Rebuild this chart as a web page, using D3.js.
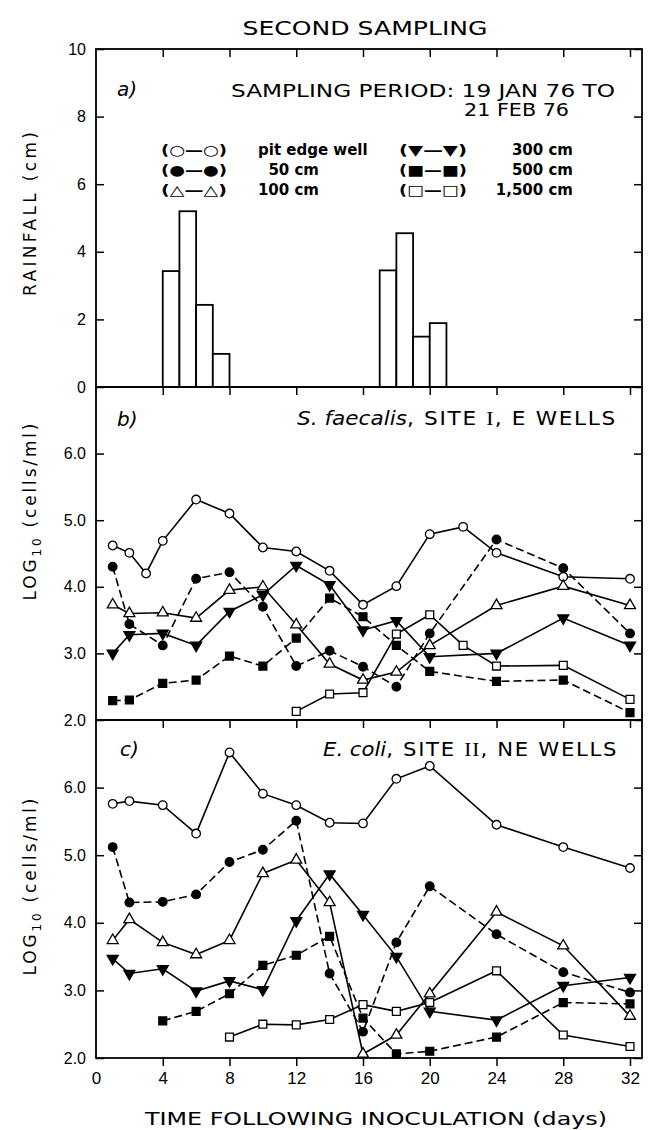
<!DOCTYPE html>
<html>
<head>
<meta charset="utf-8">
<script src="https://cdn.jsdelivr.net/npm/d3@7/dist/d3.min.js"></script>
<style>
  html, body { margin: 0; padding: 0; background: #fff; }
  svg { display: block; font-family: 'DejaVu Sans', 'Liberation Sans', sans-serif; }
</style>
</head>
<body>
<div id="chart"></div>
<script>
'use strict';

// x axis (days after inoculation)
const dayTicks = [0, 4, 8, 12, 16, 20, 24, 28, 32];
const sampleDays = [1, 2, 4, 6, 8, 10, 12, 14, 16, 18, 20, 24, 28, 32];

// a) rainfall, one bar per day
const rainDays = [4, 5, 6, 7, 17, 18, 19, 20];
const rainCm = [3.43, 5.2, 2.43, 0.98, 3.45, 4.55, 1.49, 1.89];
const rainTicks = [10, 8, 6, 4, 2, 0];

// b) S. faecalis, site I
const bPitEdgeDays = [1, 2, 3, 4, 6, 8, 10, 12, 14, 16, 18, 20, 22, 24, 28, 32];
const bPitEdge = [4.62, 4.51, 4.20, 4.69, 5.31, 5.10, 4.59, 4.53, 4.24, 3.73, 4.01, 4.79, 4.90, 4.51, 4.15, 4.12];
const b50cm = [4.30, 3.44, 3.12, 4.12, 4.22, 3.70, 2.81, 3.04, 2.80, 2.50, 3.30, 4.71, 4.28, 3.30];
const b100cm = [3.73, 3.60, 3.61, 3.53, 3.95, 4.00, 3.43, 2.84, 2.60, 2.72, 3.12, 3.72, 4.01, 3.72];
const b300cm = [3.00, 3.28, 3.30, 3.12, 3.63, 3.88, 4.32, 4.03, 3.35, 3.49, 2.95, 3.00, 3.53, 3.12];
const b500cm = [2.29, 2.30, 2.55, 2.60, 2.96, 2.81, 3.23, 3.83, 3.55, 3.12, 2.73, 2.58, 2.60, 2.11];
const b1500Days = [12, 14, 16, 18, 20, 22, 24, 28, 32];
const b1500cm = [2.13, 2.39, 2.41, 3.29, 3.58, 3.12, 2.81, 2.82, 2.31];

// c) E. coli, site II
const cPitEdge = [5.76, 5.80, 5.74, 5.32, 6.52, 5.91, 5.74, 5.48, 5.47, 6.13, 6.32, 5.45, 5.12, 4.81];
const c50cm = [5.12, 4.30, 4.31, 4.42, 4.90, 5.08, 5.51, 3.25, 2.39, 3.71, 4.54, 3.83, 3.27, 2.97];
const c100cm = [3.74, 4.05, 3.71, 3.53, 3.74, 4.73, 4.93, 4.30, 2.06, 2.34, 2.95, 4.16, 3.66, 2.62];
const c300cm = [3.47, 3.25, 3.32, 2.99, 3.14, 3.01, 4.03, 4.72, 4.12, 3.50, 2.69, 2.56, 3.07, 3.19];
const c500Days = [4, 6, 8, 10, 12, 14, 16, 18, 20, 24, 28, 32];
const c500cm = [2.55, 2.69, 2.95, 3.37, 3.52, 3.80, 2.59, 2.06, 2.10, 2.31, 2.82, 2.80];
const c1500Days = [8, 10, 12, 14, 16, 18, 20, 24, 28, 32];
const c1500cm = [2.31, 2.50, 2.49, 2.57, 2.79, 2.69, 2.82, 3.29, 2.34, 2.17];

const logTicks = [6, 5, 4, 3, 2];

// legend, symbols kept as text like the original
const legendLeft = ['(\u25CB\u2014\u25CB)', '(\u25CF\u2014\u25CF)', '(\u25B3\u2014\u25B3)'];
const legendLeftText = ['pit edge well', '50 cm', '100 cm'];
const legendRight = ['(\u25BC\u2014\u25BC)', '(\u25A0\u2014\u25A0)', '(\u25A1\u2014\u25A1)'];
const legendRightText = ['300 cm', '500 cm', '1,500 cm'];

const W = 649, H = 1130;
const frame = { left: 96, right: 642 };

const svg = d3.select('#chart').append('svg')
    .attr('width', W)
    .attr('height', H);

const x = d3.scaleLinear().domain([0, 32]).range([96, 630]);
const yA = d3.scaleLinear().domain([0, 10]).range([387, 49]);
const yB = d3.scaleLinear().domain([2, 7]).range([720, 387]);
const yC = d3.scaleLinear().domain([2, 7]).range([1058, 720]);

function pairs(days, values) {
    return days.map((d, i) => [d, values[i]]);
}

// marker shapes
const markers = {
    openCircle:   { type: d3.symbolCircle, size: 58, fill: '#fff', rotate: 0 },
    filledCircle: { type: d3.symbolCircle, size: 58, fill: '#000', rotate: 0 },
    openTri:      { type: d3.symbolTriangle, size: 52, fill: '#fff', rotate: 0 },
    filledTri:    { type: d3.symbolTriangle, size: 52, fill: '#000', rotate: 180 },
    filledSquare: { type: d3.symbolSquare, size: 62, fill: '#000', rotate: 0 },
    openSquare:   { type: d3.symbolSquare, size: 62, fill: '#fff', rotate: 0 }
};

function drawPanelFrame(y, ticks, fmt, showBottomLabels) {
    var top = y.range()[1], bottom = y.range()[0];
    var g = svg.append('g');

    // left ticks + labels
    var left = g.append('g')
        .attr('transform', `translate(${frame.left},0)`)
        .call(d3.axisLeft(y).tickValues(ticks).tickSize(-8).tickPadding(10).tickFormat(fmt));
    left.select('.domain').remove();
    left.selectAll('text').attr('font-size', 16).attr('fill', '#000');
    left.selectAll('line').attr('stroke-width', 1.5);

    // right ticks, no labels
    var right = g.append('g')
        .attr('transform', `translate(${frame.right},0)`)
        .call(d3.axisRight(y).tickValues(ticks).tickSize(-8).tickFormat(''));
    right.select('.domain').remove();
    right.selectAll('line').attr('stroke-width', 1.5);

    // top ticks pointing down into the panel
    var topAxis = g.append('g')
        .attr('transform', `translate(0,${top})`)
        .call(d3.axisTop(x).tickValues(dayTicks.slice(1)).tickSize(-8).tickFormat(''));
    topAxis.select('.domain').remove();
    topAxis.selectAll('line').attr('stroke-width', 1.5);

    if (showBottomLabels) {
        var bottomAxis = g.append('g')
            .attr('transform', `translate(0,${bottom})`)
            .call(d3.axisBottom(x).tickValues(dayTicks).tickSize(8).tickPadding(6).tickFormat(d3.format('d')));
        bottomAxis.select('.domain').remove();
        bottomAxis.selectAll('text').attr('font-size', 17).attr('fill', '#000');
        bottomAxis.selectAll('line').attr('stroke-width', 1.5);
        bottomAxis.selectAll('.tick').filter((d) => d === 0).select('line').remove();
    }

    g.append('rect')
        .attr('x', frame.left)
        .attr('y', top)
        .attr('width', frame.right - frame.left)
        .attr('height', bottom - top)
        .attr('fill', 'none')
        .attr('stroke', '#000')
        .attr('stroke-width', 1.8);
    return g;
}

function drawSeries(y, data, marker, dashed) {
    var g = svg.append('g');
    var line = d3.line().x((d) => x(d[0])).y((d) => y(d[1]));

    g.append('path')
        .datum(data)
        .attr('d', line)
        .attr('fill', 'none')
        .attr('stroke', '#000')
        .attr('stroke-width', 1.6)
        .attr('stroke-dasharray', dashed ? '8,4' : null);

    var m = markers[marker];
    g.selectAll('path.mark')
        .data(data)
        .enter().append('path')
        .classed('mark', true)
        .attr('d', d3.symbol().type(m.type).size(m.size))
        .attr('transform', (d) => `translate(${x(d[0])},${y(d[1])}) rotate(${m.rotate})`)
        .attr('fill', m.fill)
        .attr('stroke', '#000')
        .attr('stroke-width', 1.3);
}

function label(txt, px, py, opts) {
    var t = svg.append('text')
        .attr('x', px)
        .attr('y', py)
        .attr('font-size', (opts && opts.size) || 17)
        .attr('fill', '#000')
        .text(txt);
    if (opts && opts.anchor) t.attr('text-anchor', opts.anchor);
    if (opts && opts.italic) t.attr('font-style', 'italic');
    if (opts && opts.bold) t.attr('font-weight', 'bold');
    if (opts && opts.length) t.attr('textLength', opts.length).attr('lengthAdjust', 'spacingAndGlyphs');
    return t;
}

// ---------- a) rainfall ----------
svg.append('g').selectAll('rect')
    .data(pairs(rainDays, rainCm))
    .enter().append('rect')
    .attr('x', (d) => x(d[0]))
    .attr('y', (d) => yA(d[1]))
    .attr('width', (d) => x(d[0] + 1) - x(d[0]))
    .attr('height', (d) => yA(0) - yA(d[1]))
    .attr('fill', '#fff')
    .attr('stroke', '#000')
    .attr('stroke-width', 1.8);

drawPanelFrame(yA, rainTicks, d3.format('d'), false);
drawPanelFrame(yB, logTicks, d3.format('.1f'), false);
drawPanelFrame(yC, logTicks, d3.format('.1f'), true);

// ---------- b) S. faecalis ----------
drawSeries(yB, pairs(bPitEdgeDays, bPitEdge), 'openCircle', false);
drawSeries(yB, pairs(sampleDays, b50cm), 'filledCircle', true);
drawSeries(yB, pairs(sampleDays, b100cm), 'openTri', false);
drawSeries(yB, pairs(sampleDays, b300cm), 'filledTri', false);
drawSeries(yB, pairs(sampleDays, b500cm), 'filledSquare', true);
drawSeries(yB, pairs(b1500Days, b1500cm), 'openSquare', false);

// ---------- c) E. coli ----------
drawSeries(yC, pairs(sampleDays, cPitEdge), 'openCircle', false);
drawSeries(yC, pairs(sampleDays, c50cm), 'filledCircle', true);
drawSeries(yC, pairs(sampleDays, c100cm), 'openTri', false);
drawSeries(yC, pairs(sampleDays, c300cm), 'filledTri', false);
drawSeries(yC, pairs(c500Days, c500cm), 'filledSquare', true);
drawSeries(yC, pairs(c1500Days, c1500cm), 'openSquare', false);

// ---------- texts ----------
label('SECOND SAMPLING', 365, 35, { anchor: 'middle', size: 19, length: 245 });

label('a)', 117, 96, { italic: true, size: 20 });
label('b)', 117, 426, { italic: true, size: 20 });
label('c)', 120, 756, { italic: true, size: 20 });

label('SAMPLING PERIOD:  19 JAN 76 TO', 231, 97, { size: 17, length: 384 });
label('21 FEB 76', 464, 116, { size: 17, length: 105 });

legendLeft.forEach((s, i) => {
    var ly = 155 + i * 20;
    label(s, 161, ly, { size: 14, bold: true, length: 66 });
    label(legendLeftText[i], i === 0 ? 258 : 319, ly, { size: 15, bold: true, anchor: i === 0 ? 'start' : 'end' });
    label(legendRight[i], 399, ly, { size: 14, bold: true, length: 68 });
    label(legendRightText[i], 573, ly, { size: 15, bold: true, anchor: 'end' });
});

// panel titles: italic species name, spaced capitals
function panelTitle(px, py, len, species, site, wells) {
    var t = svg.append('text').attr('x', px).attr('y', py)
        .attr('font-size', 19).attr('fill', '#000')
        .attr('textLength', len).attr('lengthAdjust', 'spacingAndGlyphs');
    t.append('tspan').attr('font-style', 'italic').text(species);
    t.append('tspan').attr('letter-spacing', 1.5).text(', SITE ');
    t.append('tspan').attr('font-family', 'Liberation Serif').attr('letter-spacing', 1).text(site);
    t.append('tspan').attr('letter-spacing', 1.5).text(', ' + wells);
    return t;
}
panelTitle(297, 425, 320, 'S. faecalis', 'I', 'E WELLS');
panelTitle(323, 756, 295, 'E. coli', 'II', 'NE WELLS');

// axis titles
function vTitle(cx, cy, len) {
    return svg.append('text')
        .attr('transform', `translate(${cx},${cy}) rotate(-90)`)
        .attr('text-anchor', 'middle')
        .attr('font-size', 17)
        .attr('fill', '#000')
        .attr('textLength', len)
        .attr('lengthAdjust', 'spacing');
}
vTitle(36, 214, 164).text('RAINFALL  (cm)');

[[512, 177], [887, 177]].forEach((p) => {
    var t = vTitle(36, p[0], p[1]);
    t.append('tspan').text('LOG');
    t.append('tspan').attr('font-size', 12).attr('dy', 5).text('10');
    t.append('tspan').attr('dy', -5).text('  (cells/ml)');
});

label('TIME  FOLLOWING  INOCULATION  (days)', 145, 1125, { size: 18, length: 462 });
</script>
</body>
</html>
